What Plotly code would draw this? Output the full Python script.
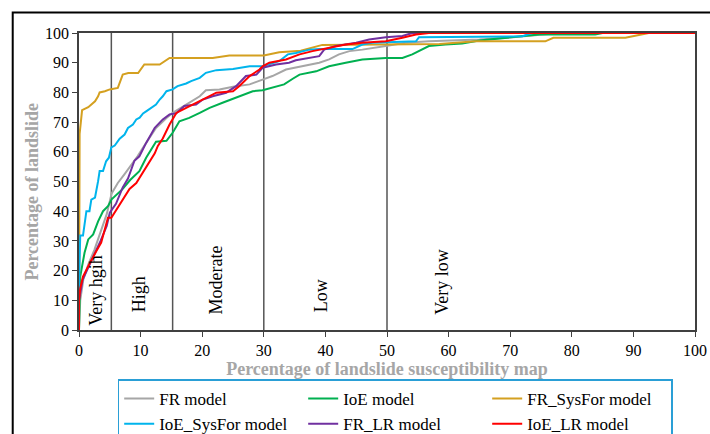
import plotly.graph_objects as go

# ---------------- data ----------------
fr_x = [0, 0.2, 0.7, 1.5, 2.5, 3.5, 4.5, 5.3, 6.3, 7.4, 8.5, 9.5, 10.9, 12.5, 14.2, 15.2, 17.4, 19.6, 20.6,
        22.8, 25, 27.7, 29.8, 31.4, 33.6, 36.3, 39, 40.6, 42.2, 43.9, 46, 49.8, 53, 56.8, 60, 65, 70, 75, 78, 100]
fr_y = [0, 10, 17, 22, 27, 33, 39, 46, 49.5, 52.5, 55.5, 58.5, 63, 68, 71.4, 73.1, 75.9, 78.7, 80.7,
        81, 81.9, 82.7, 84.3, 85.5, 87.7, 88.8, 90, 91.1, 92.8, 93.9, 94.4, 95.6, 96.7, 97.2, 97.4, 97.8, 98.5, 99.5, 100, 100]

ioe_x = [0, 0.2, 0.9, 1.5, 2.3, 3.1, 3.9, 4.7, 5.3, 7.1, 8.3, 9.8, 10.9, 12, 12.5, 14.2, 15.2, 16.3, 17.9,
         19.6, 21.2, 23.3, 25.5, 27.7, 28.2, 29.8, 31.4, 33.3, 34.7, 35.8, 38.5, 40.6, 43.3, 46, 49.8, 52.5,
         54.1, 56.8, 59.5, 62.2, 65, 66.6, 70, 74.7, 83.8, 85, 100]
ioe_y = [0, 18, 26, 30.5, 32.2, 36.6, 40, 41.7, 44, 47.5, 50.5, 53.5, 58, 62, 63.4, 63.7, 66.4, 70.3, 71.4,
         73.1, 74.8, 76.5, 78.2, 79.9, 80.4, 80.7, 81.5, 82.7, 84.6, 86, 87.1, 88.8, 90, 91.1, 91.6, 91.6,
         92.8, 95.6, 96.1, 96.5, 97.5, 97.8, 98.5, 99.5, 99.5, 100, 100]

frsys_x = [0, 0, 0.1, 0.3, 0.5, 1.5, 2, 2.6, 3.1, 3.35, 4.2, 5, 6.3, 6.8, 7.1, 8, 9.6, 10.6, 13.1, 14.7,
           21.7, 24.4, 30, 32.5, 36, 39.5, 48.8, 58.5, 64.4, 75.7, 77, 88.7, 92.5, 100]
frsys_y = [0, 60, 66, 70, 74, 75, 76, 77, 78.7, 80, 80.4, 81, 81.5, 84, 86, 86.5, 86.5, 89.4, 89.4, 91.6,
           91.6, 92.4, 92.4, 93.5, 94, 96, 96.1, 96.3, 97.2, 97.2, 98.4, 98.4, 100, 100]

ioesys_x = [0, 0, 0.2, 0.65, 1.2, 1.7, 2.0, 2.6, 3.1, 3.35, 3.9, 4.4, 4.85, 5.25, 5.8, 6.6, 7.4, 7.95, 8.75,
            9.3, 9.85, 10.4, 10.9, 11.7, 12.5, 13.1, 13.6, 14.2, 15.2, 16, 17.4, 18.2, 19.6, 20.6, 22.3, 25,
            27.7, 29.8, 30.9, 32.5, 33.9, 35.2, 37.4, 39, 44.4, 46, 47.6, 54.7, 55.2, 72, 73.5, 100]
ioesys_y = [0, 15, 31.8, 31.8, 40, 40, 43.9, 44.6, 50.1, 53.5, 53.5, 56.8, 58, 61.5, 62.1, 64.4, 65.8, 68, 69.2,
            70.9, 71.5, 72.9, 73.6, 74.8, 75.9, 77.6, 78.7, 80.4, 81, 82.1, 83, 83.8, 84.9, 86.6, 87.5, 87.9,
            88.8, 88.8, 89.6, 90.5, 92.8, 93.3, 94.4, 94.6, 94.6, 96.1, 96.7, 97.2, 98.6, 98.9, 100, 100]

frlr_x = [0, 0, 0.6, 1.5, 2.5, 3.5, 4.5, 5.0, 6.0, 7.1, 7.95, 9.0, 9.8, 10.9, 12.3, 13.6, 14.7, 15.8, 17.1,
          19, 20.1, 21.7, 23.9, 25.5, 27.1, 28.8, 29.8, 32, 34.1, 35.2, 39, 39.8, 41.7, 45, 47.1, 49.8,
          52.5, 54.1, 100]
frlr_y = [0, 10, 17, 21, 25.5, 30, 35, 39.5, 42.5, 48, 51, 57, 58.5, 63, 68.1, 70.9, 72.6, 73, 75.4,
          75.9, 77.6, 78.7, 79.9, 82.1, 85.5, 86, 88.3, 89.4, 90, 90.8, 92.2, 94.4, 95.6, 96.7, 97.8, 98.6,
          99, 100, 100]

ioelr_x = [0, 0, 0.2, 0.65, 1.5, 2.3, 2.8, 3.6, 4.2, 4.7, 5.25, 6.1, 7.1, 8.2, 9.3, 10.4, 11.5, 12.3, 12.8,
           13.6, 14.7, 15.8, 17.4, 19, 20.6, 22.3, 25, 26, 27.7, 29.3, 29.8, 30.9, 33.6, 35.8, 37.9, 40.6,
           43.3, 46, 49.8, 52.5, 54.7, 56.8, 100]
ioelr_y = [0, 10, 14, 18, 21.5, 24.3, 26.5, 29.4, 33.8, 37.8, 37.8, 40.6, 43.9, 47.5, 49.5, 53, 56.5, 59.5, 62,
           64.5, 69.2, 73.1, 74.8, 76.5, 78.2, 79.9, 80.4, 82.1, 85.5, 87.7, 88.8, 90, 91.1, 92.8, 93.9, 95,
           96.1, 96.7, 97.2, 98.4, 99.5, 100, 100]

series_names = ["FR model", "IoE model", "FR_SysFor model", "IoE_SysFor model", "FR_LR model", "IoE_LR model"]
series_x = [fr_x, ioe_x, frsys_x, ioesys_x, frlr_x, ioelr_x]
series_y = [fr_y, ioe_y, frsys_y, ioesys_y, frlr_y, ioelr_y]
colors = ["#a6a6a6", "#00b050", "#d4a020", "#00b4ec", "#7030a0", "#ff0000"]

zone_bounds = [5.25, 15.2, 30, 50]
zone_labels = ["Very hgih", "High", "Moderate", "Low", "Very low"]
zone_label_x = [2.8, 9.7, 22.3, 39.3, 59]
zone_label_y = [0.7, 5.2, 4.5, 5.2, 4.6]

tick_vals = [0, 10, 20, 30, 40, 50, 60, 70, 80, 90, 100]

# ---------------- figure ----------------
FONT = "Liberation Serif"
fig = go.Figure()
for n, xs, ys, c in zip(series_names, series_x, series_y, colors):
    fig.add_trace(go.Scatter(x=xs, y=ys, name=n, mode="lines",
                             line=dict(color=c, width=2)))

for b in zone_bounds:
    fig.add_shape(type="line", xref="x", yref="y", x0=b, x1=b, y0=0, y1=100,
                  line=dict(color="#555555", width=1.5), layer="below")

for t, x, y in zip(zone_labels, zone_label_x, zone_label_y):
    fig.add_annotation(x=x, y=y, xref="x", yref="y", text=t, textangle=-90,
                       showarrow=False, xanchor="center", yanchor="bottom",
                       font=dict(family=FONT, size=18, color="black"))

# outer frame
fig.add_shape(type="rect", xref="paper", yref="paper", x0=-0.1076, x1=1.04, y0=-0.4, y1=1.069,
              line=dict(color="black", width=2), layer="below")

fig.add_annotation(xref="paper", yref="y", x=-0.0768, y=46.5, text="<b>Percentage of landslide</b>",
                   textangle=-90, showarrow=False, xanchor="center", yanchor="middle",
                   font=dict(family=FONT, size=18, color="#a6a6a6"))

axis_common = dict(range=[0, 100], tickvals=tick_vals, showgrid=False, zeroline=False,
                   showline=True, linecolor="#404040", linewidth=1.5, mirror=True,
                   ticks="outside", tickcolor="#404040", ticklen=5,
                   tickfont=dict(family=FONT, size=16, color="black"))

fig.update_layout(
    width=710, height=434,
    margin=dict(l=79, r=15, t=33, b=104, autoexpand=False),
    paper_bgcolor="white", plot_bgcolor="white",
    xaxis=dict(**axis_common,
               title=dict(text="<b>Percentage of landslide susceptibility map</b>", standoff=4,
                          font=dict(family=FONT, size=18, color="#a6a6a6"))),
    yaxis=dict(**axis_common),
    legend=dict(orientation="h", x=0.0628, y=-0.1666, xanchor="left", yanchor="top",
                entrywidth=139, entrywidthmode="pixels",
                font=dict(family=FONT, size=17, color="black"),
                bordercolor="#2a9fd6", borderwidth=1.5, bgcolor="white"),
    showlegend=True,
)

fig.write_html("out.html")
